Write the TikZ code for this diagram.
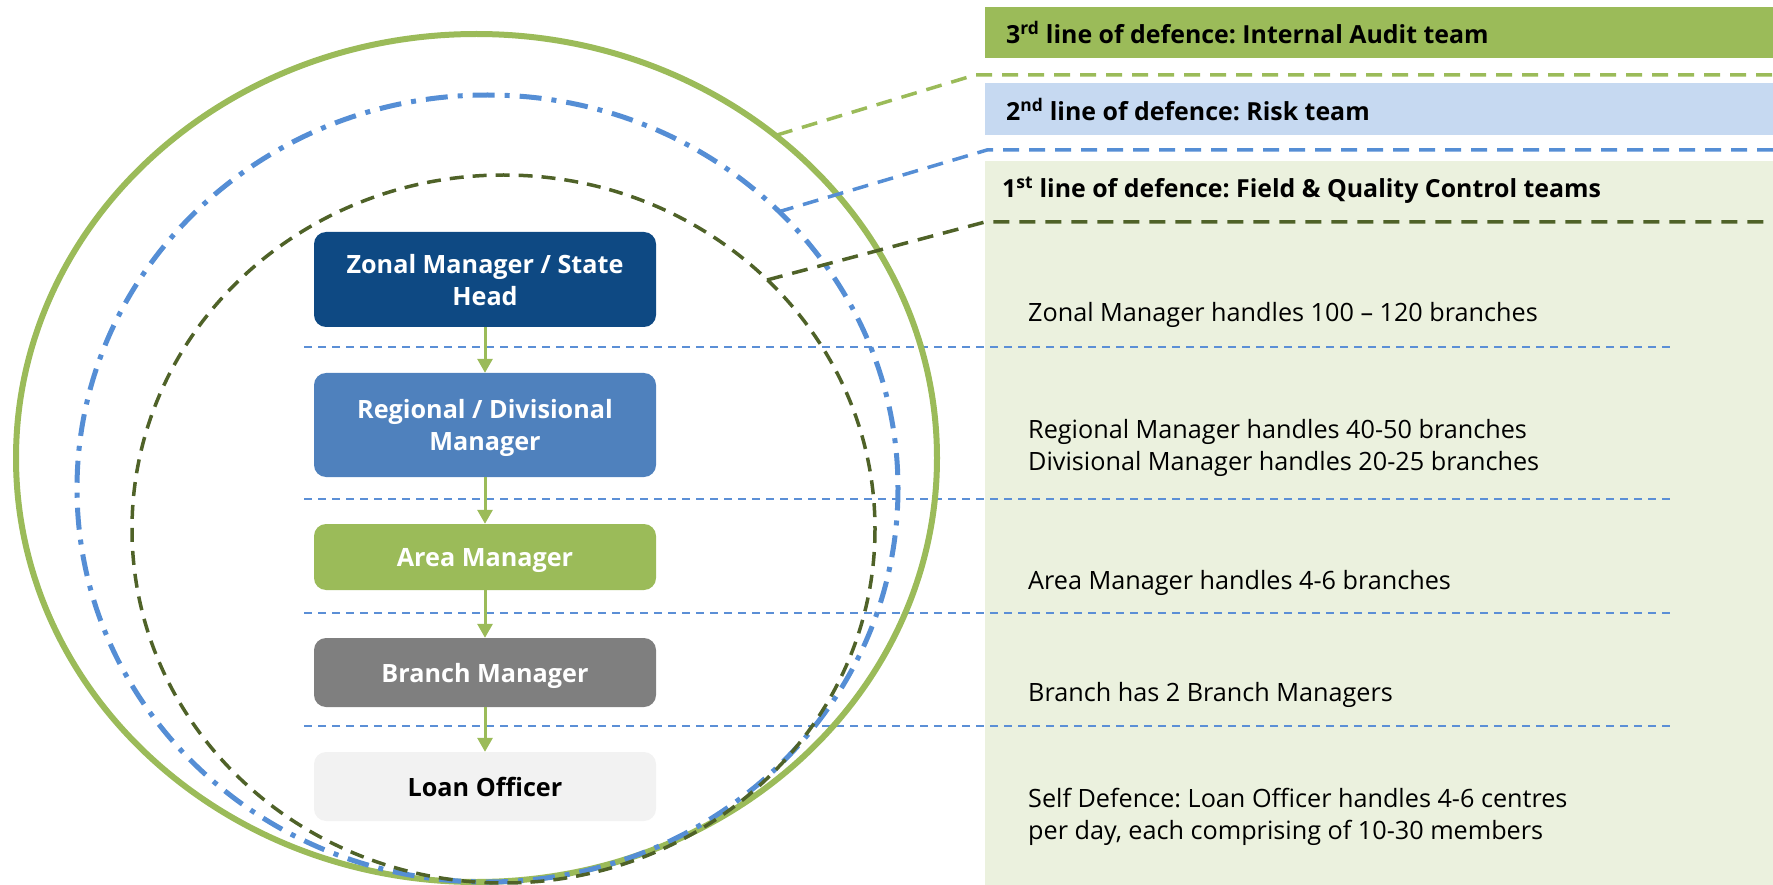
\documentclass[tikz,border=0pt]{standalone}
\usepackage{fontspec}
\setmainfont{Open Sans}
\usetikzlibrary{arrows.meta}
\frenchspacing
\definecolor{cgreen}{HTML}{9BBB59}
\definecolor{cblue}{HTML}{558ED5}
\definecolor{cdark}{HTML}{4F6228}
\definecolor{cnavy}{HTML}{0E4983}
\definecolor{cmid}{HTML}{4F81BD}
\definecolor{cgrey}{HTML}{7F7F7F}
\definecolor{clight}{HTML}{F2F2F2}
\definecolor{cpanel}{HTML}{EBF1DE}
\definecolor{cbluebar}{HTML}{C6D9F1}
\definecolor{csep}{HTML}{5B8FD6}
\tikzset{
  box/.style={rounded corners=12pt, minimum width=342pt, inner sep=0pt, align=center,
    text depth=0pt,
    font=\fontsize{25.2}{32}\selectfont\bfseries, text=white},
  note/.style={anchor=west, align=left, inner sep=0pt, font=\fontsize{25.2}{31.5}\selectfont},
  head/.style={anchor=west, inner sep=0pt, font=\fontsize{24.9}{30}\selectfont\bfseries},
  arr/.style={cgreen, line width=3pt, -{Triangle[width=15pt,length=14pt]}},
  sep/.style={csep, line width=1.6pt, dash pattern=on 8pt off 6pt},
  conn/.style={line width=3.5pt, dash pattern=on 16pt off 10pt},
}
\begin{document}
\begin{tikzpicture}[x=1pt,y=-1pt]
\useasboundingbox (0,0) rectangle (1773,885);
% right panels
\fill[cpanel] (985,161) rectangle (1773,885);
\fill[cgreen] (985,7) rectangle (1773,58);
\fill[cbluebar] (985,83) rectangle (1773,135);
\node[head] (h3) at (1006,33) {3\textsuperscript{rd} line of defence: Internal Audit team};
\node[head] (h2) at (1006,110) {2\textsuperscript{nd} line of defence: Risk team};
\node[head] (h1) at (1002,190) {1\textsuperscript{st} line of defence: Field \& Quality Control teams};
% separators
\foreach \y/\n in {347/s1,499/s2,613/s3,726/s4}{
  \coordinate (\n a) at (304,\y);
  \coordinate (\n b) at (1670,\y);
  \draw[sep] (\n a) -- (\n b);
}
% ellipses
\draw[cgreen, line width=6pt] (476.5,458) ellipse [x radius=460.5, y radius=424];
\draw[cblue, line width=5pt, dash pattern=on 22pt off 10pt on 5pt off 10pt] (487.5,488.5) ellipse [x radius=410.5, y radius=393.5];
\draw[cdark, line width=3.5pt, dash pattern=on 14pt off 9pt] (503.5,529) ellipse [x radius=371.5, y radius=354];
% connectors
\coordinate (g0) at (777,135); \coordinate (g1) at (975,75); \coordinate (g2) at (1773,75);
\coordinate (b0) at (778,212); \coordinate (b1) at (987,150); \coordinate (b2) at (1773,150);
\coordinate (d0) at (767,280); \coordinate (d1) at (985,222); \coordinate (d2) at (1773,222);
\draw[conn, cgreen] (g0) -- (g1) -- (g2);
\draw[conn, cblue] (b0) -- (b1) -- (b2);
\draw[conn, cdark] (d0) -- (d1) -- (d2);
% boxes
\node[box, fill=cnavy, minimum height=95pt] (zm) at (485,279.5) {Zonal Manager / State\\Head};
\node[box, fill=cmid, minimum height=104pt] (rm) at (485,425) {Regional / Divisional\\Manager};
\node[box, fill=cgreen, minimum height=66pt] (am) at (485,557) {Area Manager};
\node[box, fill=cgrey, minimum height=69pt] (bm) at (485,672.5) {Branch Manager};
\node[box, fill=clight, text=black, minimum height=69pt] (lo) at (485,786.5) {Loan Officer};
\draw[arr] (zm) -- (rm);
\draw[arr] (rm) -- (am);
\draw[arr] (am) -- (bm);
\draw[arr] (bm) -- (lo);
% notes
\node[note] (n1) at (1028,315) {Zonal Manager handles 100 – 120 branches};
\node[note] (n2) at (1028,448) {Regional Manager handles 40-50 branches\\Divisional Manager handles 20-25 branches};
\node[note] (n3) at (1028,583) {Area Manager handles 4-6 branches};
\node[note] (n4) at (1028,695) {Branch has 2 Branch Managers};
\node[note] (n5) at (1028,817) {Self Defence: Loan Officer handles 4-6 centres\\per day, each comprising of 10-30 members};
\end{tikzpicture}
\end{document}
